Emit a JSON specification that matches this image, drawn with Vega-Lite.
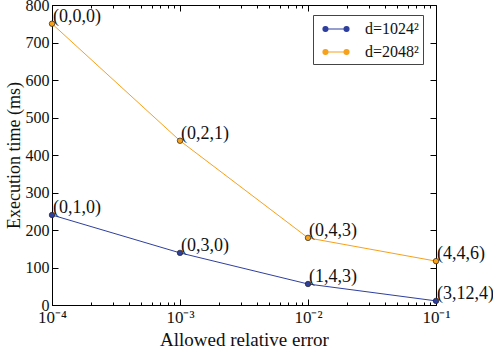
{
  "$schema": "https://vega.github.io/schema/vega-lite/v6.json",
  "width": 384,
  "height": 300,
  "autosize": "none",
  "padding": {"left": 52, "top": 5, "right": 57, "bottom": 44},
  "background": "white",
  "config": {
    "font": "Liberation Serif",
    "view": {"stroke": "black", "strokeWidth": 1},
    "axis": {"grid": false, "domainColor": "black", "tickColor": "black", "labelColor": "#111", "titleColor": "#111", "labelFont": "Liberation Serif", "titleFont": "Liberation Serif", "titleFontWeight": "normal"},
    "legend": {"labelFont": "Liberation Serif"},
    "text": {"font": "Liberation Serif"}
  },
  "data": {"values": [
    {"err": 0.0001, "time": 240, "series": "d=1024²", "label": "(0,1,0)"},
    {"err": 0.001, "time": 139, "series": "d=1024²", "label": "(0,3,0)"},
    {"err": 0.01, "time": 56, "series": "d=1024²", "label": "(1,4,3)"},
    {"err": 0.1, "time": 11, "series": "d=1024²", "label": "(3,12,4)"},
    {"err": 0.0001, "time": 750, "series": "d=2048²", "label": "(0,0,0)"},
    {"err": 0.001, "time": 438, "series": "d=2048²", "label": "(0,2,1)"},
    {"err": 0.01, "time": 179, "series": "d=2048²", "label": "(0,4,3)"},
    {"err": 0.1, "time": 117, "series": "d=2048²", "label": "(4,4,6)"}
  ]},
  "resolve": {"axis": {"x": "independent", "y": "independent"}},
  "layer": [
    {
      "mark": {"type": "line", "strokeWidth": 1, "clip": false},
      "encoding": {
        "x": {"field": "err", "type": "quantitative", "scale": {"type": "log", "domain": [0.0001, 0.1], "nice": false},
          "axis": {"orient": "bottom", "title": "Allowed relative error", "titlePadding": 2,
            "labelFont": "Liberation Serif", "titleFont": "Liberation Serif", "labelFontSize": 17, "titleFontSize": 19,
            "values": [0.0001,0.0002,0.0003,0.0004,0.0005,0.0006,0.0007,0.0008,0.0009,0.001,0.002,0.003,0.004,0.005,0.006,0.007,0.008,0.009,0.01,0.02,0.03,0.04,0.05,0.06,0.07,0.08,0.09,0.1],
            "tickSize": {"condition": {"test": "abs(log(datum.value)/LN10 - round(log(datum.value)/LN10)) < 0.001", "value": -6}, "value": -3},
            "labelExpr": "abs(log(datum.value)/LN10 - round(log(datum.value)/LN10)) < 0.001 ? '10⁻' + ['⁰','¹','²','³','⁴'][-round(log(datum.value)/LN10)] : ''",
            "labelPadding": 10, "labelFlush": false, "labelOverlap": false}},
        "y": {"field": "time", "type": "quantitative", "scale": {"domain": [0, 800], "nice": false},
          "axis": {"orient": "left", "title": "Execution time (ms)", "labelFont": "Liberation Serif", "titleFont": "Liberation Serif", "labelFontSize": 16, "titleFontSize": 18,
            "values": [0,100,200,300,400,500,600,700,800], "tickSize": -6, "labelPadding": 9, "titlePadding": 2}},
        "color": {"field": "series", "type": "nominal",
          "scale": {"domain": ["d=1024²", "d=2048²"], "range": ["#2e3f9e", "#f7a11a"]},
          "legend": {"orient": "none", "legendX": 261, "legendY": 10, "title": null, "strokeColor": "#444", "fillColor": "white", "padding": 4, "labelFontSize": 16, "labelFont": "Liberation Serif", "labelColor": "#111", "rowPadding": 5,
            "symbolType": "M-0.45,0a0.28,0.28 0 1,0 0.56,0a0.28,0.28 0 1,0 -0.56,0M-0.17,0L2.17,0M1.89,0a0.28,0.28 0 1,0 0.56,0a0.28,0.28 0 1,0 -0.56,0",
            "symbolSize": 324, "symbolStrokeWidth": 1.1, "labelOffset": 28}}
      }
    },
    {
      "mark": {"type": "point", "filled": true, "size": 30, "stroke": "#222", "strokeWidth": 0.7, "opacity": 1, "clip": false},
      "encoding": {
        "x": {"field": "err", "type": "quantitative", "scale": {"type": "log", "domain": [0.0001, 0.1], "nice": false},
          "axis": {"orient": "top", "title": null, "labels": false, "domain": false,
            "values": [0.0001,0.0002,0.0003,0.0004,0.0005,0.0006,0.0007,0.0008,0.0009,0.001,0.002,0.003,0.004,0.005,0.006,0.007,0.008,0.009,0.01,0.02,0.03,0.04,0.05,0.06,0.07,0.08,0.09,0.1],
            "tickSize": {"condition": {"test": "abs(log(datum.value)/LN10 - round(log(datum.value)/LN10)) < 0.001", "value": -6}, "value": -3}}},
        "y": {"field": "time", "type": "quantitative", "scale": {"domain": [0, 800], "nice": false},
          "axis": {"orient": "right", "title": null, "labels": false, "domain": false, "values": [0,100,200,300,400,500,600,700,800], "tickSize": -6}},
        "color": {"field": "series", "type": "nominal", "legend": null}
      }
    },
    {
      "mark": {"type": "text", "align": "left", "baseline": "middle", "dx": 1, "dy": -7, "fontSize": 18, "font": "Liberation Serif", "color": "#111", "clip": false},
      "encoding": {
        "x": {"field": "err", "type": "quantitative", "scale": {"type": "log", "domain": [0.0001, 0.1], "nice": false}, "axis": null},
        "y": {"field": "time", "type": "quantitative", "scale": {"domain": [0, 800], "nice": false}, "axis": null},
        "text": {"field": "label"}
      }
    }
  ]
}
